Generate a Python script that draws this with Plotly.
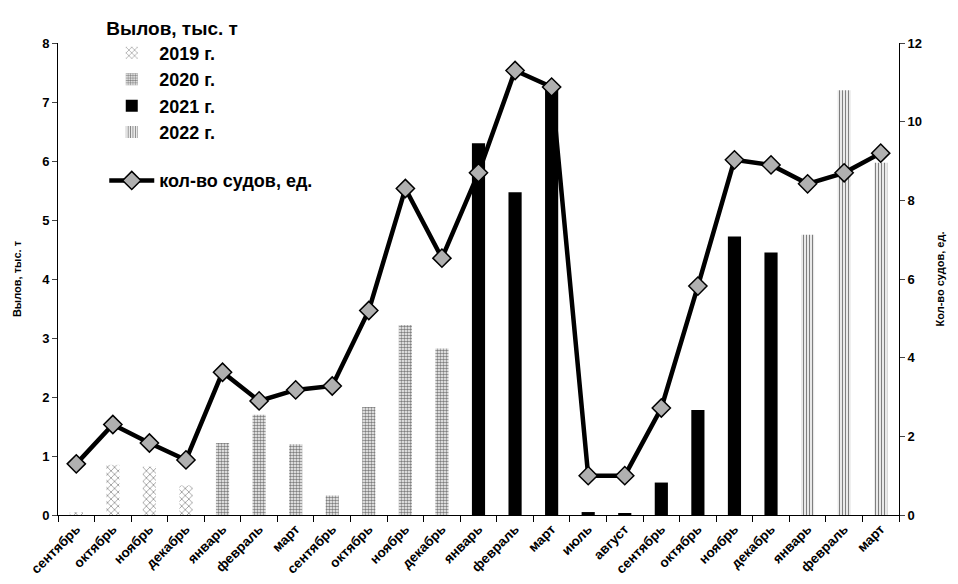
import plotly.graph_objects as go

months = ["сентябрь", "октябрь", "ноябрь", "декабрь", "январь", "февраль", "март",
          "сентябрь", "октябрь", "ноябрь", "декабрь", "январь", "февраль", "март",
          "июль", "август", "сентябрь", "октябрь", "ноябрь", "декабрь",
          "январь", "февраль", "март"]
year_of = ["2019", "2019", "2019", "2019", "2020", "2020", "2020",
           "2020", "2020", "2020", "2020", "2021", "2021", "2021",
           "2021", "2021", "2021", "2021", "2021", "2021",
           "2022", "2022", "2022"]
catch = [0.05, 0.85, 0.82, 0.50, 1.22, 1.70, 1.20,
         0.33, 1.83, 3.22, 2.82, 6.30, 5.47, 7.27,
         0.05, 0.03, 0.55, 1.78, 4.72, 4.45,
         4.75, 7.20, 5.97]
vessels = [1.3, 2.3, 1.83, 1.4, 3.63, 2.9, 3.18,
           3.28, 5.2, 8.3, 6.53, 8.7, 11.3, 10.88,
           1.0, 1.0, 2.72, 5.82, 9.03, 8.9,
           8.42, 8.7, 9.2]

years = ["2019", "2020", "2021", "2022"]
year_labels = ["2019 г.", "2020 г.", "2021 г.", "2022 г."]

x_idx = list(range(len(months)))

patterns = {
    "2019": dict(shape="x", fgcolor="black", bgcolor="white", size=5, solidity=0.25),
    "2020": dict(shape=".", fgcolor="black", bgcolor="white", size=3, solidity=0.55),
    "2021": dict(shape="", fgcolor="black", bgcolor="black"),
    "2022": dict(shape="|", fgcolor="black", bgcolor="white", size=3, solidity=0.45),
}

fig = go.Figure()
for y, lab in zip(years, year_labels):
    vals = [c if yr == y else None for c, yr in zip(catch, year_of)]
    color = "black" if y == "2021" else "white"
    fig.add_trace(go.Bar(
        x=x_idx, y=vals, name=lab, width=0.36,
        marker=dict(color=color, line=dict(width=0), pattern=patterns[y]),
        legendgroup="bars",
    ))

fig.add_trace(go.Scatter(
    x=x_idx, y=vessels, name="кол-во судов, ед.", yaxis="y2",
    mode="lines+markers",
    line=dict(color="black", width=4.5),
    marker=dict(symbol="diamond", size=14, color="#b0b0b0",
                line=dict(color="black", width=1.5)),
    legendgroup="line",
))

fig.update_layout(
    width=950, height=576,
    margin=dict(l=50, r=59, t=35, b=69, autoexpand=False),
    paper_bgcolor="white", plot_bgcolor="white",
    font=dict(family="Liberation Sans", size=13, color="black", weight="bold"),
    barmode="overlay",
    showlegend=True,
    legend=dict(
        x=0.055, y=1.07, xanchor="left", yanchor="top",
        bgcolor="rgba(0,0,0,0)",
        title=dict(text="Вылов, тыс. т", font=dict(size=19, weight="bold")),
        font=dict(size=18, weight="bold"),
        tracegroupgap=22,
        itemwidth=45,
    ),
    xaxis=dict(
        range=[-0.5, len(months) - 0.5],
        tickmode="array", tickvals=x_idx, ticktext=months,
        tickangle=-45, ticks="", showgrid=False,
        showline=True, linecolor="black", linewidth=1,
        tickfont=dict(size=13.5, weight="bold"),
        automargin=False,
        minor=dict(tickmode="array",
                   tickvals=[i - 0.5 for i in range(len(months) + 1)],
                   ticks="outside", ticklen=6, tickcolor="black", showgrid=False),
        zeroline=False,
    ),
    yaxis=dict(
        range=[0, 8], dtick=1, ticks="outside", ticklen=5,
        showline=True, linecolor="black", linewidth=1, showgrid=False,
        zeroline=False, automargin=False,
        title=dict(text="Вылов, тыс. т", font=dict(size=11, weight="bold"), standoff=18),
        tickfont=dict(size=13, weight="bold"),
    ),
    yaxis2=dict(
        range=[0, 12], dtick=2, overlaying="y", side="right",
        ticks="outside", ticklen=5,
        showline=True, linecolor="black", linewidth=1, showgrid=False,
        zeroline=False, automargin=False,
        title=dict(text="Кол-во судов, ед.", font=dict(size=11, weight="bold"), standoff=15),
        tickfont=dict(size=13, weight="bold"),
    ),
)

fig.write_html("out.html")
